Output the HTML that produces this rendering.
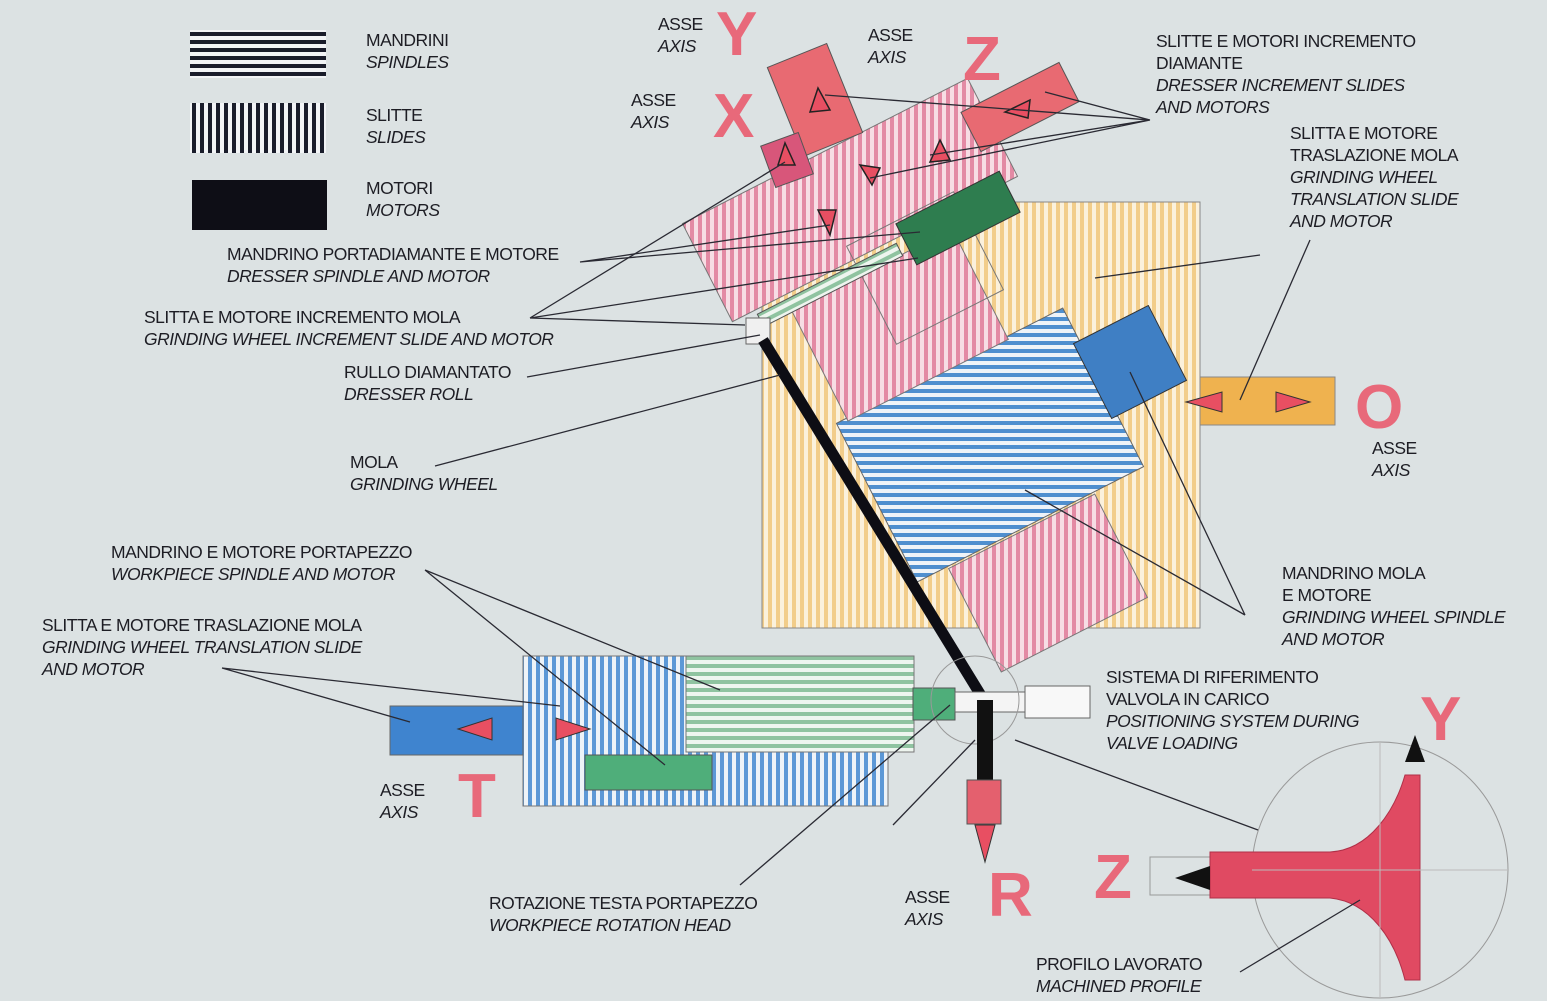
<!DOCTYPE html>
<html><head><meta charset="utf-8"><style>
html,body{margin:0;padding:0;background:#dce2e3;}
svg{display:block}
text{font-family:"Liberation Sans",sans-serif;font-size:17.5px;fill:#1d1d24;letter-spacing:-0.5px}
.i{font-style:italic}
.big{font-family:"Liberation Sans",sans-serif;font-size:62px;font-weight:bold;fill:#e8697a;letter-spacing:0}
.ld{stroke:#2a2a33;stroke-width:1.3;fill:none}
</style></head><body>
<svg width="1547" height="1001" viewBox="0 0 1547 1001" xmlns="http://www.w3.org/2000/svg">
<defs>
<pattern id="hb" width="8" height="8" patternUnits="userSpaceOnUse"><rect width="8" height="8" fill="#f2f4f6"/><rect width="8" height="4" fill="#1a1d2b"/></pattern>
<pattern id="vb" width="8" height="8" patternUnits="userSpaceOnUse"><rect width="8" height="8" fill="#f2f4f6"/><rect width="4" height="8" fill="#1a1d2b"/></pattern>
<pattern id="vy" width="8" height="8" patternUnits="userSpaceOnUse"><rect width="8" height="8" fill="#fbf1dc"/><rect width="4" height="8" fill="#f2cd8a"/></pattern>
<pattern id="vp" width="8" height="8" patternUnits="userSpaceOnUse" patternTransform="rotate(27)"><rect width="8" height="8" fill="#f7dde4"/><rect width="4" height="8" fill="#e38aa4"/></pattern>
<pattern id="hbl" width="8" height="8" patternUnits="userSpaceOnUse" patternTransform="rotate(27)"><rect width="8" height="8" fill="#eef3f8"/><rect width="8" height="4" fill="#4f8fcf"/></pattern>
<pattern id="vbl" width="8" height="8" patternUnits="userSpaceOnUse"><rect width="8" height="8" fill="#eef3f8"/><rect width="4" height="8" fill="#5d98d6"/></pattern>
<pattern id="hg" width="8" height="8" patternUnits="userSpaceOnUse"><rect width="8" height="8" fill="#eef5ef"/><rect width="8" height="4" fill="#8fc3a0"/></pattern>
</defs>

<rect x="190" y="30" width="136" height="48" fill="url(#hb)"/>
<rect x="190" y="103" width="136" height="50" fill="url(#vb)"/>
<rect x="192" y="180" width="135" height="50" fill="#0e0e16"/>

<rect x="762" y="202" width="438" height="426" fill="url(#vy)" stroke="#888" stroke-width="1"/>

<g transform="translate(1048,583) rotate(-27)"><rect x="-82" y="-58" width="164" height="116" fill="url(#vp)" stroke="#777"/></g>
<g transform="translate(990,445) rotate(-27)"><rect x="-127" y="-89" width="254" height="178" fill="url(#hbl)" stroke="#666"/></g>
<g transform="translate(1130,362) rotate(-27)"><rect x="-42" y="-42" width="84" height="84" fill="#3f7fc4" stroke="#333"/></g>
<g transform="translate(900,325) rotate(-27)"><rect x="-90" y="-62" width="180" height="124" fill="url(#vp)" stroke="#777"/></g>
<g transform="translate(850,200) rotate(-27)"><rect x="-160" y="-55" width="320" height="110" fill="url(#vp)" stroke="#777"/></g>
<g transform="translate(925,268) rotate(-27)"><rect x="-60" y="-55" width="120" height="110" fill="none" stroke="#777"/></g>
<g transform="translate(958,218) rotate(-27)"><rect x="-58" y="-23" width="116" height="46" fill="#2e7d4f" stroke="#333"/></g>
<g transform="translate(815,100) rotate(-22)"><rect x="-32" y="-48" width="64" height="96" fill="#e86a72" stroke="#555"/></g>
<g transform="translate(1020,107) rotate(-27)"><rect x="-55" y="-22" width="110" height="44" fill="#e86a72" stroke="#555"/></g>
<g transform="translate(787,160) rotate(-20)"><rect x="-20" y="-22" width="40" height="44" fill="#d8567a" stroke="#555"/></g>
<g fill="#e84f62" stroke="#222" stroke-width="1.5">
<polygon points="818,88 810,112 830,110"/>
<polygon points="1005,112 1030,100 1028,118"/>
<polygon points="830,235 818,210 836,210"/>
<polygon points="940,140 930,162 950,160"/>
<polygon points="872,185 860,165 880,168"/>
<polygon points="785,143 778,165 795,165"/>
</g>
<g transform="translate(830,285) rotate(-27)"><rect x="-78" y="-7" width="156" height="14" fill="url(#hg)" stroke="#555"/></g>
<rect x="746" y="318" width="24" height="26" fill="#f0f0f0" stroke="#666"/>
<line x1="763" y1="340" x2="985" y2="702" stroke="#0d0d14" stroke-width="11"/>

<rect x="1200" y="377" width="135" height="48" fill="#efb24f" stroke="#888"/>
<polygon points="1186,402 1222,392 1222,412" fill="#e84f62" stroke="#333"/>
<polygon points="1310,402 1276,392 1276,412" fill="#e84f62" stroke="#333"/>

<rect x="523" y="656" width="365" height="150" fill="url(#vbl)" stroke="#777"/>
<rect x="686" y="656" width="228" height="96" fill="url(#hg)" stroke="#777"/>
<rect x="390" y="706" width="133" height="49" fill="#3f84cf" stroke="#666"/>
<rect x="585" y="755" width="127" height="35" fill="#4fae7a" stroke="#555"/>
<rect x="913" y="688" width="42" height="32" fill="#4fae7a" stroke="#555"/>
<rect x="1025" y="686" width="65" height="32" fill="#f8f8f8" stroke="#666"/>
<rect x="955" y="692" width="70" height="20" fill="#f4f4f4" stroke="#666"/>
<circle cx="975" cy="700" r="44" fill="none" stroke="#999" stroke-width="1"/>
<polygon points="458,729 492,718 492,740" fill="#e84f62" stroke="#333"/>
<polygon points="590,729 556,718 556,740" fill="#e84f62" stroke="#333"/>
<rect x="977" y="700" width="16" height="80" fill="#111"/>
<rect x="967" y="780" width="34" height="44" fill="#e4606e" stroke="#555"/>
<polygon points="975,825 995,825 985,862" fill="#e84f62" stroke="#333"/>

<circle cx="1380" cy="870" r="128" fill="none" stroke="#999" stroke-width="1"/>
<polygon points="1150,857 1210,857 1210,895 1150,895" fill="none" stroke="#999"/>
<path d="M1210,852 L1330,852 C1370,850 1395,810 1405,775 L1420,775 L1420,980 L1405,980 C1395,940 1370,902 1330,898 L1210,898 Z" fill="#e04a62" stroke="#b03048"/>
<polygon points="1175,878 1210,866 1210,890" fill="#111"/>
<polygon points="1415,735 1405,762 1425,762" fill="#111"/>
<line x1="1380" y1="742" x2="1380" y2="998" stroke="#bbb"/>
<line x1="1252" y1="870" x2="1508" y2="870" stroke="#bbb"/>

<text class="big" x="716" y="55">Y</text>
<text class="big" x="713" y="137">X</text>
<text class="big" x="963" y="80">Z</text>
<text class="big" x="1355" y="428">O</text>
<text class="big" x="458" y="817">T</text>
<text class="big" x="988" y="916">R</text>
<text class="big" x="1094" y="898">Z</text>
<text class="big" x="1420" y="740">Y</text>

<g class="ld">
<path d="M1150,120 L825,95 M1150,120 L1045,92 M1150,120 L870,178 M1150,120 L930,155"/>
<path d="M1260,255 L1095,278 M1310,240 L1240,400"/>
<path d="M580,262 L920,232 M580,262 L830,225"/>
<path d="M530,318 L785,162 M530,318 L918,258 M530,318 L745,325"/>
<path d="M527,377 L760,335"/>
<path d="M435,466 L780,375"/>
<path d="M1245,615 L1025,490 M1245,615 L1130,372"/>
<path d="M425,570 L720,690 M425,570 L665,765"/>
<path d="M222,668 L560,706 M222,668 L410,722"/>
<path d="M740,885 L950,705"/>
<path d="M893,825 L975,740"/>
<path d="M1258,830 L1015,740"/>
<path d="M1240,972 L1360,900"/>
</g>

<text x="366" y="46">MANDRINI</text><text class="i" x="366" y="68">SPINDLES</text>
<text x="366" y="121">SLITTE</text><text class="i" x="366" y="143">SLIDES</text>
<text x="366" y="194">MOTORI</text><text class="i" x="366" y="216">MOTORS</text>
<text x="658" y="30">ASSE</text><text class="i" x="658" y="52">AXIS</text>
<text x="868" y="41">ASSE</text><text class="i" x="868" y="63">AXIS</text>
<text x="631" y="106">ASSE</text><text class="i" x="631" y="128">AXIS</text>
<text x="1156" y="47">SLITTE E MOTORI INCREMENTO</text><text x="1156" y="69">DIAMANTE</text>
<text class="i" x="1156" y="91">DRESSER INCREMENT SLIDES</text><text class="i" x="1156" y="113">AND MOTORS</text>
<text x="1290" y="139">SLITTA E MOTORE</text><text x="1290" y="161">TRASLAZIONE MOLA</text>
<text class="i" x="1290" y="183">GRINDING WHEEL</text><text class="i" x="1290" y="205">TRANSLATION SLIDE</text><text class="i" x="1290" y="227">AND MOTOR</text>
<text x="227" y="260">MANDRINO PORTADIAMANTE E MOTORE</text><text class="i" x="227" y="282">DRESSER SPINDLE AND MOTOR</text>
<text x="144" y="323">SLITTA E MOTORE INCREMENTO MOLA</text><text class="i" x="144" y="345">GRINDING WHEEL INCREMENT SLIDE AND MOTOR</text>
<text x="344" y="378">RULLO DIAMANTATO</text><text class="i" x="344" y="400">DRESSER ROLL</text>
<text x="350" y="468">MOLA</text><text class="i" x="350" y="490">GRINDING WHEEL</text>
<text x="1372" y="454">ASSE</text><text class="i" x="1372" y="476">AXIS</text>
<text x="111" y="558">MANDRINO E MOTORE PORTAPEZZO</text><text class="i" x="111" y="580">WORKPIECE SPINDLE AND MOTOR</text>
<text x="42" y="631">SLITTA E MOTORE TRASLAZIONE MOLA</text><text class="i" x="42" y="653">GRINDING WHEEL TRANSLATION SLIDE</text><text class="i" x="42" y="675">AND MOTOR</text>
<text x="1282" y="579">MANDRINO MOLA</text><text x="1282" y="601">E MOTORE</text>
<text class="i" x="1282" y="623">GRINDING WHEEL SPINDLE</text><text class="i" x="1282" y="645">AND MOTOR</text>
<text x="1106" y="683">SISTEMA DI RIFERIMENTO</text><text x="1106" y="705">VALVOLA IN CARICO</text>
<text class="i" x="1106" y="727">POSITIONING SYSTEM DURING</text><text class="i" x="1106" y="749">VALVE LOADING</text>
<text x="380" y="796">ASSE</text><text class="i" x="380" y="818">AXIS</text>
<text x="905" y="903">ASSE</text><text class="i" x="905" y="925">AXIS</text>
<text x="489" y="909">ROTAZIONE TESTA PORTAPEZZO</text><text class="i" x="489" y="931">WORKPIECE ROTATION HEAD</text>
<text x="1036" y="970">PROFILO LAVORATO</text><text class="i" x="1036" y="992">MACHINED PROFILE</text>
</svg>
</body></html>
